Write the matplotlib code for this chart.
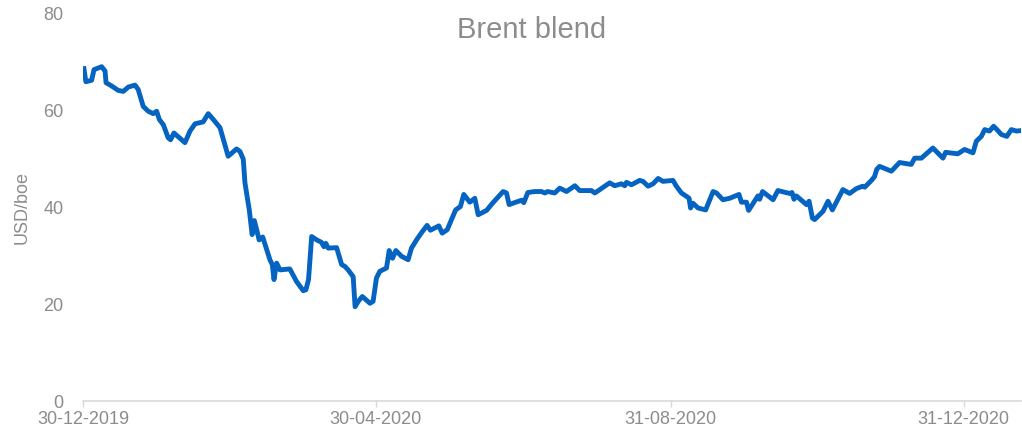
import matplotlib
matplotlib.use("Agg")
import matplotlib.pyplot as plt
import matplotlib.dates as mdates
import pandas as pd

plt.rcParams['font.family'] = ['Liberation Sans', 'DejaVu Sans']

# Brent blend, USD/boe
start_date = pd.Timestamp('2019-12-30')
days = [
    0.4, 1.2, 3.6, 4.6, 7.8, 9.2, 9.6, 12.0, 14.7, 16.8, 18.9, 21.7, 23.0, 25.1,
    27.2, 29.3, 30.7, 31.8, 33.5, 35.5, 36.5, 37.9, 42.5, 44.6, 46.7, 50.1, 52.2,
    54.3, 57.1, 60.5, 64.0, 65.4, 66.8, 67.5, 69.3, 70.5, 71.4, 72.4, 73.4, 74.9,
    77.9, 78.9, 79.6, 80.7, 82.1, 86.2, 89.0, 91.8, 92.9, 94.0, 95.3, 97.4, 99.4,
    100.4, 101.2, 102.2, 105.7, 107.8, 109.2, 110.5, 112.6, 113.4, 114.7, 116.4,
    119.6, 120.9, 122.3, 123.7, 126.5, 127.6, 129.0, 130.4, 132.8, 135.5, 136.9,
    139.0, 141.1, 143.4, 144.8, 148.3, 149.7, 151.8, 155.3, 157.3, 158.7, 161.2,
    163.3, 164.7, 168.2, 170.7, 175.1, 176.5, 177.6, 180.4, 182.8, 183.7, 185.4,
    188.3, 191.1, 192.5, 193.6, 196.6, 198.7, 201.5, 205.0, 207.0, 211.9, 213.3,
    215.4, 219.5, 221.6, 224.4, 225.8, 226.5, 228.6, 232.0, 233.4, 235.5, 237.6,
    239.7, 241.7, 245.9, 247.3, 249.4, 251.5, 252.6, 253.2, 254.2, 256.3, 259.5,
    262.6, 264.0, 266.7, 269.5, 273.4, 274.4, 276.5, 277.4, 281.3, 282.0, 283.2,
    287.6, 289.6, 294.5, 295.5, 296.3, 297.3, 301.5, 302.6, 304.0, 304.9, 308.4,
    310.5, 312.3, 316.7, 319.5, 322.3, 324.9, 325.8, 328.6, 329.9, 330.8, 332.0,
    336.9, 340.3, 345.2, 346.6, 349.4, 354.2, 357.0, 358.4, 359.5, 364.6, 367.4,
    370.9, 372.3, 374.4, 375.8, 377.8, 379.5, 380.9, 382.7, 385.0, 386.9, 389.0,
    391.0,
]
prices = [
    68.7, 66.0, 66.3, 68.5, 69.1, 68.2, 65.8, 65.1, 64.2, 64.0, 64.9, 65.3, 64.4, 60.9,
    59.9, 59.4, 59.9, 58.2, 57.1, 54.4, 54.0, 55.4, 53.4, 55.8, 57.3, 57.7, 59.4,
    58.2, 56.5, 50.6, 52.1, 51.6, 50.0, 45.1, 39.5, 34.4, 37.3, 35.4, 33.3, 33.9,
    29.2, 28.2, 25.1, 28.5, 27.1, 27.3, 24.7, 22.8, 23.0, 25.1, 34.0, 33.3, 32.8,
    31.9, 32.6, 31.6, 31.7, 28.2, 27.8, 27.1, 25.7, 19.5, 20.6, 21.6,
    20.2, 20.6, 25.4, 26.8, 27.5, 31.1, 29.5, 31.1, 29.9, 29.2, 31.6,
    33.3, 34.8, 36.3, 35.3, 36.2, 34.7, 35.4, 39.5, 40.2, 42.7, 41.1,
    41.9, 38.5, 39.4, 40.9, 43.3, 43.0, 40.6, 41.1, 41.5, 41.0, 43.1,
    43.3, 43.3, 43.0, 43.3, 43.0, 44.0, 43.3, 44.5, 43.5, 43.5, 43.0,
    43.7, 45.1, 44.5, 44.9, 44.5, 45.2, 44.7, 45.6, 45.4, 44.4, 44.9,
    46.0, 45.4, 45.6, 44.4, 43.0, 42.3, 41.9, 39.9, 40.9, 39.9, 39.5,
    43.3, 43.0, 41.6, 41.9, 42.7, 41.1, 41.1, 39.4, 42.4, 41.7, 43.3,
    41.6, 43.5, 42.9, 43.1, 41.7, 42.4, 40.6, 41.3, 37.8, 37.5, 39.2,
    41.3, 39.5, 43.7, 42.9, 43.9, 44.4, 44.2, 45.6, 46.4, 47.9, 48.5,
    47.5, 49.3, 48.9, 50.2, 50.2, 52.3, 50.9, 50.2, 51.4, 51.1, 52.0,
    51.3, 53.7, 54.7, 56.1, 55.8, 56.8, 56.1, 55.1, 54.7, 56.1, 55.8,
    55.9,
]
tick_dates = ['2019-12-30', '2020-04-30', '2020-08-31', '2020-12-31']

dates = start_date + pd.to_timedelta(days, unit='D')

grey = '#8c8c8c'

fig = plt.figure(figsize=(10.22, 4.33), dpi=100)
ax = fig.add_axes([0.0812, 0.0739, 0.918, 0.8938])

ax.plot(dates, prices, color='#0563C1', linewidth=3.5, solid_joinstyle='round')

ax.set_ylim(0, 80)
ax.set_xlim(start_date, start_date + pd.Timedelta(days=391))
ax.set_yticks([0, 20, 40, 60, 80])
ax.set_xticks(pd.to_datetime(tick_dates))
ax.xaxis.set_major_formatter(mdates.DateFormatter('%d-%m-%Y'))

for side in ['top', 'right', 'left']:
    ax.spines[side].set_visible(False)
ax.spines['bottom'].set_color('#d9d9d9')
ax.spines['bottom'].set_linewidth(1.2)

ax.tick_params(axis='y', length=0, pad=14, labelsize=13, labelcolor=grey)
ax.tick_params(axis='x', length=4, width=1, color='#d9d9d9', pad=3,
               labelsize=13, labelcolor=grey)

ax.set_ylabel('USD/boe', fontsize=13, color=grey, labelpad=9)
fig.text(532 / 1022, 1 - 30 / 433, 'Brent blend', fontsize=21, color=grey,
         ha='center', va='center')

fig.savefig('out.png', dpi=100)
